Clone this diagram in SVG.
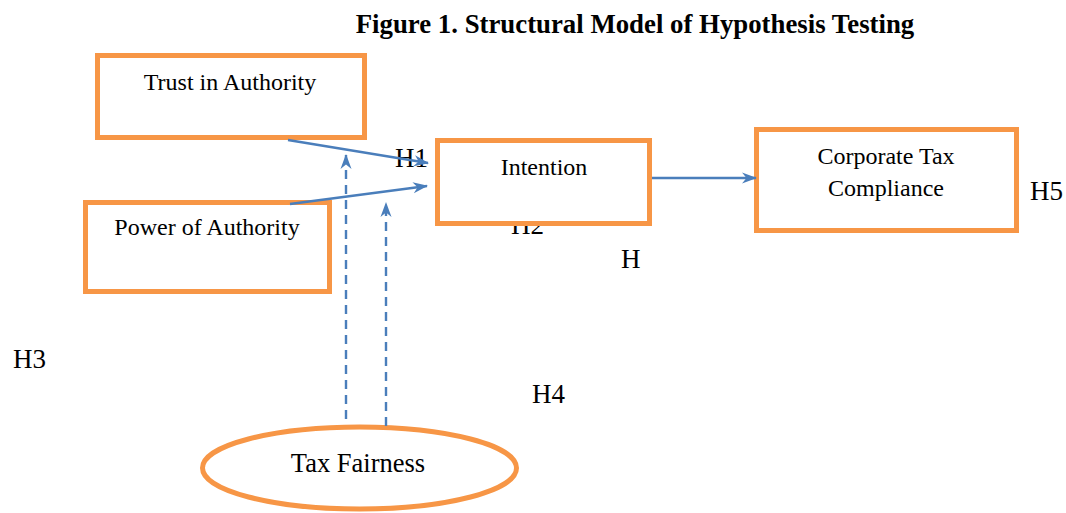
<svg xmlns="http://www.w3.org/2000/svg" width="1066" height="513" viewBox="0 0 1066 513">
<style>
.node{fill:#fff;stroke:#F79646;stroke-width:5}
.t{font-family:"Liberation Serif","Times New Roman",serif;fill:#000}
.lbl{font-size:24px;text-anchor:middle}
.h{font-size:27px}
.c{fill:none;stroke:#4A7EBB;stroke-width:2.4}
.d{stroke-dasharray:9 6}
</style>
<defs>
<marker id="ah" markerUnits="userSpaceOnUse" markerWidth="16" markerHeight="12" refX="14" refY="6" orient="auto">
<path d="M0,0.5 L15,6 L0,11.5 L4.5,6 z" fill="#4A7EBB"/>
</marker>
</defs>
<rect width="1066" height="513" fill="#fff"/>
<text class="t" x="635" y="33" font-size="26.8" font-weight="bold" text-anchor="middle">Figure 1. Structural Model of Hypothesis Testing</text>
<g id="labels">
<text class="t h" x="395" y="167">H1</text>
<text class="t h" x="511" y="234">H2</text>
<text class="t h" x="13" y="368">H3</text>
<text class="t h" x="532" y="403">H4</text>
<text class="t h" x="621" y="268">H</text>
<text class="t h" x="1030" y="200">H5</text>
</g>
<g id="trust">
<rect class="node" x="97.5" y="55.5" width="267" height="82"/>
<text class="t lbl" x="230" y="90">Trust in Authority</text>
</g>
<g id="power">
<rect class="node" x="85.5" y="202.5" width="244" height="89"/>
<text class="t lbl" x="207" y="235">Power of Authority</text>
</g>
<g id="intention">
<rect class="node" x="437.5" y="140.5" width="212" height="83"/>
<text class="t lbl" x="544" y="175">Intention</text>
</g>
<g id="compliance">
<rect class="node" x="756.5" y="129.5" width="260" height="101"/>
<text class="t lbl" x="886" y="164">Corporate Tax</text>
<text class="t lbl" x="886" y="196">Compliance</text>
</g>
<g id="fairness">
<ellipse class="node" cx="359.5" cy="468" rx="157" ry="41"/>
<text class="t" x="358" y="472" font-size="26.5" text-anchor="middle">Tax Fairness</text>
</g>
<g id="connectors">
<line class="c" x1="288" y1="140" x2="428" y2="163" marker-end="url(#ah)"/>
<line class="c" x1="290" y1="204" x2="427" y2="186" marker-end="url(#ah)"/>
<line class="c" x1="652" y1="178" x2="756" y2="178" marker-end="url(#ah)"/>
<line class="c d" x1="346" y1="419" x2="346" y2="155" marker-end="url(#ah)"/>
<line class="c d" x1="386" y1="426" x2="386" y2="203" marker-end="url(#ah)"/>
</g>
</svg>
